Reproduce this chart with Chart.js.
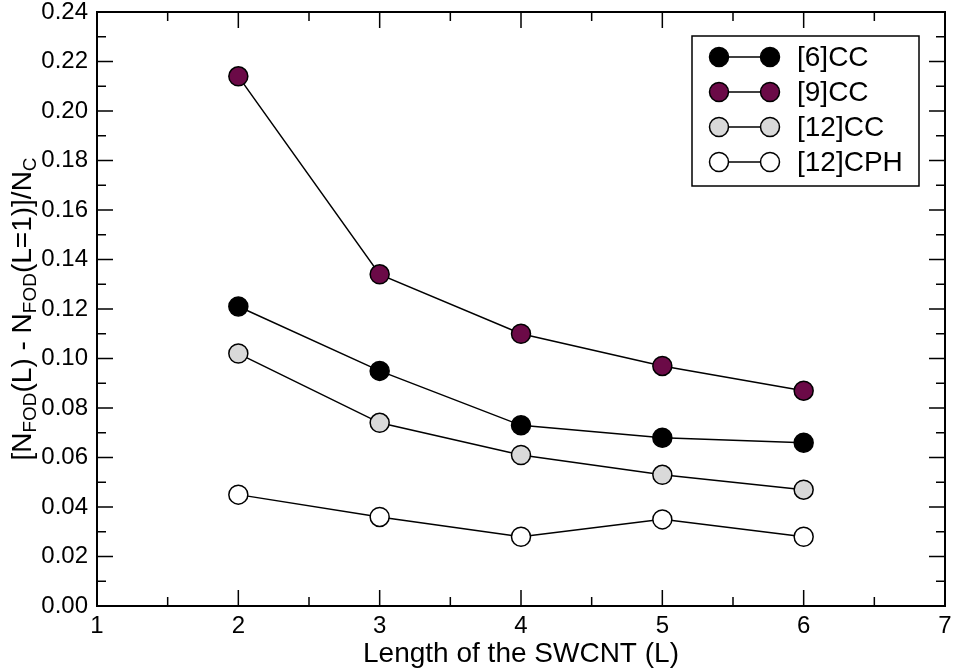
<!DOCTYPE html>
<html>
<head>
<meta charset="utf-8">
<script src="https://cdn.jsdelivr.net/npm/chart.js@4.4.1/dist/chart.umd.min.js"></script>
<style>
  html, body { margin: 0; padding: 0; background: #fff; }
  canvas { display: block; }
</style>
</head>
<body>
<canvas id="chart" width="956" height="670"></canvas>
<script>
// data
const lengths = [2, 3, 4, 5, 6];
const cc6   = [0.121, 0.095, 0.073, 0.068, 0.066];
const cc9   = [0.214, 0.134, 0.110, 0.097, 0.087];
const cc12  = [0.102, 0.074, 0.061, 0.053, 0.047];
const cph12 = [0.045, 0.036, 0.028, 0.035, 0.028];
const seriesNames  = ['[6]CC', '[9]CC', '[12]CC', '[12]CPH'];
const seriesFills  = ['#000000', '#6b0a47', '#d9d9d9', '#ffffff'];
const seriesValues = [cc6, cc9, cc12, cph12];

const FONT = 'Liberation Sans, Arial, Helvetica, sans-serif';

function toPoints(vals) {
    return lengths.map(function(x, i) { return { x: x, y: vals[i] }; });
}

const datasets = seriesValues.map(function(vals, i) {
    return {
        label: seriesNames[i],
        data: toPoints(vals),
        borderColor: '#000',
        borderWidth: 1.5,
        backgroundColor: seriesFills[i],
        pointBackgroundColor: seriesFills[i],
        pointBorderColor: '#000',
        pointBorderWidth: 1.5,
        pointRadius: 9.5,
        pointHoverRadius: 9.5,
        tension: 0
    };
});

// frame, inward ticks on all four sides, titles and legend
const decorations = {
    id: 'decorations',
    afterDraw: function(chart) {
        const ctx = chart.ctx;
        const a = chart.chartArea;
        const xs = chart.scales.x, ys = chart.scales.y;
        ctx.save();
        ctx.strokeStyle = '#000';
        ctx.lineWidth = 2;
        ctx.strokeRect(a.left, a.top, a.right - a.left, a.bottom - a.top);

        ctx.lineWidth = 1.5;
        ctx.beginPath();
        for (let i = 0; i <= 12; i++) {
            const v = 1 + i * 0.5;
            const px = xs.getPixelForValue(v);
            const len = (i % 2 === 0) ? 16 : 9;
            ctx.moveTo(px, a.bottom); ctx.lineTo(px, a.bottom - len);
            ctx.moveTo(px, a.top);    ctx.lineTo(px, a.top + len);
        }
        for (let i = 0; i <= 24; i++) {
            const v = i * 0.01;
            const py = ys.getPixelForValue(v);
            const len = (i % 2 === 0) ? 16 : 9;
            ctx.moveTo(a.left, py);  ctx.lineTo(a.left + len, py);
            ctx.moveTo(a.right, py); ctx.lineTo(a.right - len, py);
        }
        ctx.stroke();

        // x title
        ctx.fillStyle = '#000';
        ctx.font = '28px ' + FONT;
        ctx.textAlign = 'center';
        ctx.textBaseline = 'alphabetic';
        ctx.fillText('Length of the SWCNT (L)', (a.left + a.right) / 2, 662);

        // y title with subscripts
        const parts = [
            ['[N', false], ['FOD', true], ['(L) - N', false],
            ['FOD', true], ['(L=1)]/N', false], ['C', true]
        ];
        const mainFont = '28px ' + FONT, subFont = '19px ' + FONT;
        let total = 0;
        parts.forEach(function(p) {
            ctx.font = p[1] ? subFont : mainFont;
            total += ctx.measureText(p[0]).width;
        });
        ctx.translate(31, (a.top + a.bottom) / 2);
        ctx.rotate(-Math.PI / 2);
        ctx.textAlign = 'left';
        let cx = -total / 2;
        parts.forEach(function(p) {
            ctx.font = p[1] ? subFont : mainFont;
            ctx.fillText(p[0], cx, p[1] ? 5 : 0);
            cx += ctx.measureText(p[0]).width;
        });
        ctx.restore();

        // legend
        ctx.save();
        ctx.strokeStyle = '#000';
        ctx.lineWidth = 1.5;
        ctx.strokeRect(692, 36, 227, 150);
        ctx.font = '28px ' + FONT;
        ctx.textAlign = 'left';
        ctx.textBaseline = 'middle';
        chart.data.datasets.forEach(function(ds, i) {
            const y = 57 + i * 35;
            ctx.beginPath();
            ctx.moveTo(719, y); ctx.lineTo(770, y);
            ctx.stroke();
            [719, 770].forEach(function(x) {
                ctx.beginPath();
                ctx.arc(x, y, 9.5, 0, Math.PI * 2);
                ctx.fillStyle = ds.pointBackgroundColor;
                ctx.fill();
                ctx.stroke();
            });
            ctx.fillStyle = '#000';
            ctx.fillText(ds.label, 797, y + 1);
        });
        ctx.restore();
    }
};

new Chart(document.getElementById('chart').getContext('2d'), {
    type: 'line',
    data: { datasets: datasets },
    options: {
        responsive: false,
        animation: false,
        devicePixelRatio: 1,
        layout: { padding: { top: 12, right: 9, left: 0, bottom: 0 } },
        plugins: {
            legend: { display: false },
            tooltip: { enabled: false }
        },
        scales: {
            x: {
                type: 'linear',
                min: 1,
                max: 7,
                grid: { display: false, drawTicks: false, tickLength: 0 },
                border: { display: false },
                ticks: {
                    stepSize: 1,
                    color: '#000',
                    padding: 6,
                    font: { size: 24, family: FONT },
                    maxRotation: 0
                },
                afterFit: function(scale) {
                    scale.height = 64;
                    scale.paddingLeft = 0;
                    scale.paddingRight = 0;
                }
            },
            y: {
                type: 'linear',
                min: 0,
                max: 0.24,
                grid: { display: false, drawTicks: false, tickLength: 0 },
                border: { display: false },
                ticks: {
                    stepSize: 0.02,
                    color: '#000',
                    padding: 9,
                    font: { size: 24, family: FONT },
                    callback: function(v) { return v.toFixed(2); }
                },
                afterFit: function(scale) {
                    scale.width = 97;
                    scale.paddingTop = 0;
                    scale.paddingBottom = 0;
                }
            }
        }
    },
    plugins: [decorations]
});
</script>
</body>
</html>
